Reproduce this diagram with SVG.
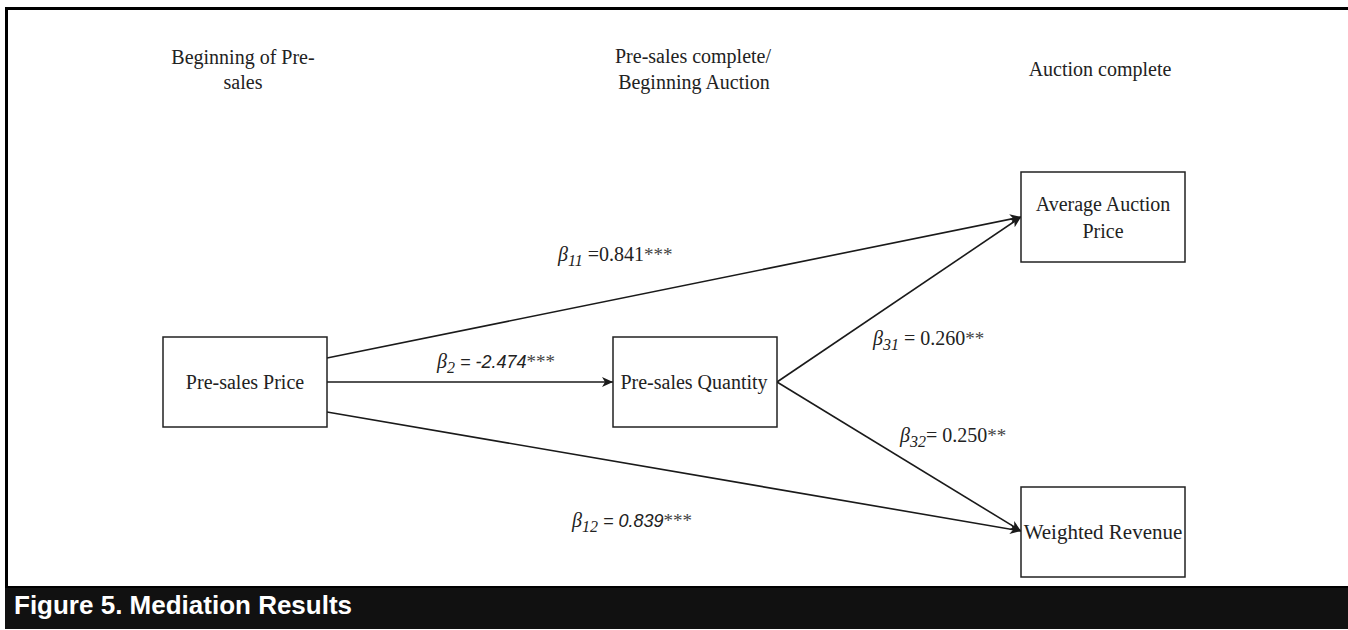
<svg xmlns="http://www.w3.org/2000/svg" width="1348" height="630" viewBox="0 0 1348 630">
<style>
.box{fill:#fff;stroke:#222;stroke-width:1.5}
.nt{font-family:"Liberation Serif","Times New Roman",serif;font-size:20px;fill:#222;text-anchor:middle}
.hd{font-family:"Liberation Serif","Times New Roman",serif;font-size:20px;fill:#222;text-anchor:middle}
.edge{stroke:#1a1a1a;stroke-width:1.6;fill:none;marker-end:url(#arr)}
.lbl{font-family:"Liberation Serif","Times New Roman",serif;font-size:20px;fill:#222}
.it{font-style:italic}
.sub{font-style:italic;font-size:16px}
.sans{font-family:"Liberation Sans",Arial,sans-serif;font-style:italic;font-size:18px}
.ast{font-family:"Liberation Serif","Times New Roman",serif;font-size:19px;fill:#444}
.cap{font-family:"Liberation Sans",Arial,sans-serif;font-weight:bold;font-size:26px;fill:#fff}
</style>
<defs>
<marker id="arr" markerUnits="userSpaceOnUse" markerWidth="12" markerHeight="10" refX="11" refY="5" orient="auto">
<path d="M0,0 L11,5 L0,10 L3,5 z" fill="#1a1a1a"/>
</marker>
</defs>
<rect x="0" y="0" width="1348" height="630" fill="#fff"/>
<rect x="5" y="7" width="1343" height="3" fill="#000"/>
<rect x="5" y="7" width="3" height="580" fill="#000"/>
<g id="caption">
<rect x="5" y="586" width="1343" height="43" fill="#111"/>
<rect x="5" y="586" width="1343" height="2" fill="#000"/>
<text class="cap" x="14" y="614">Figure 5. Mediation Results</text>
</g>
<g id="headers">
<text class="hd" x="243" y="64">Beginning of Pre-</text>
<text class="hd" x="243" y="89">sales</text>
<text class="hd" x="693" y="63">Pre-sales complete/</text>
<text class="hd" x="694" y="89">Beginning Auction</text>
<text class="hd" x="1100" y="76">Auction complete</text>
</g>
<g id="connectors">
<line class="edge" x1="327" y1="358" x2="1021" y2="217"/>
<line class="edge" x1="327" y1="382" x2="613" y2="382"/>
<line class="edge" x1="327" y1="412" x2="1021" y2="531"/>
<line class="edge" x1="777" y1="382" x2="1021" y2="217"/>
<line class="edge" x1="777" y1="382" x2="1021" y2="531"/>
</g>
<g id="edge-labels">
<text class="lbl" x="558" y="261"><tspan class="it">β</tspan><tspan class="sub" dy="5">11</tspan><tspan dy="-5"> =0.841</tspan><tspan class="ast">***</tspan></text>
<text class="lbl" x="437" y="368"><tspan class="it">β</tspan><tspan class="sub" dy="5">2</tspan><tspan class="sans" dy="-5"> = -2.474</tspan><tspan class="ast">***</tspan></text>
<text class="lbl" x="873" y="345"><tspan class="it">β</tspan><tspan class="sub" dy="5">31</tspan><tspan dy="-5"> = 0.260</tspan><tspan class="ast">**</tspan></text>
<text class="lbl" x="900" y="442"><tspan class="it">β</tspan><tspan class="sub" dy="5">32</tspan><tspan dy="-5">= 0.250</tspan><tspan class="ast">**</tspan></text>
<text class="lbl" x="572" y="527"><tspan class="it">β</tspan><tspan class="sub" dy="5">12</tspan><tspan class="sans" dy="-5"> = 0.839</tspan><tspan class="ast">***</tspan></text>
</g>
<g id="node-presales-price">
<rect class="box" x="163" y="337" width="164" height="90"/>
<text class="nt" x="245" y="389">Pre-sales Price</text>
</g>
<g id="node-presales-quantity">
<rect class="box" x="613" y="337" width="164" height="90"/>
<text class="nt" x="694" y="389">Pre-sales Quantity</text>
</g>
<g id="node-average-auction-price">
<rect class="box" x="1021" y="172" width="164" height="90"/>
<text class="nt" x="1103" y="211">Average Auction</text>
<text class="nt" x="1103" y="238">Price</text>
</g>
<g id="node-weighted-revenue">
<rect class="box" x="1021" y="487" width="164" height="90"/>
<text class="nt" x="1103" y="539" style="font-size:21px">Weighted Revenue</text>
</g>
</svg>
